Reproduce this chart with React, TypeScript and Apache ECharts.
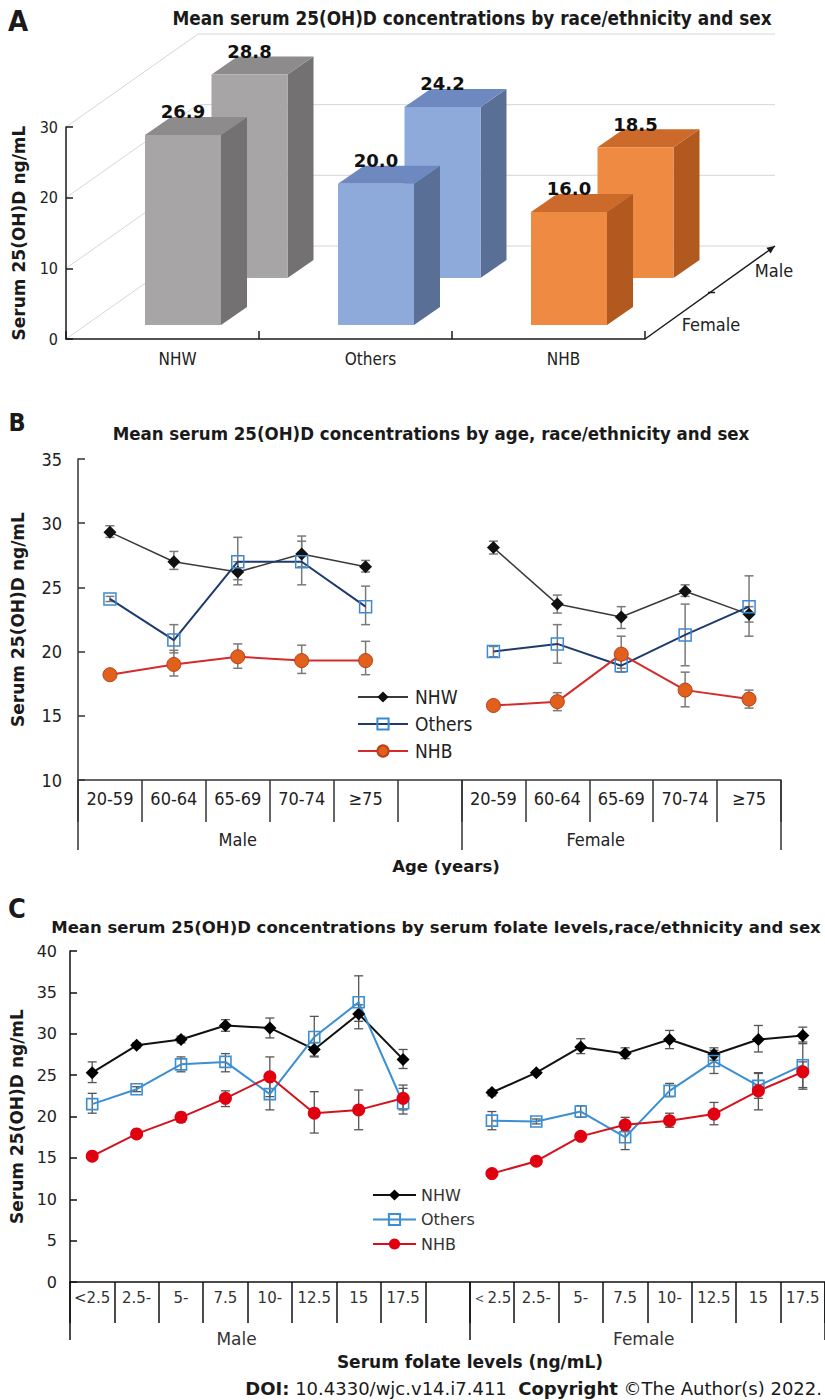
import React, { useEffect, useRef } from "react";
import * as echarts from "echarts";

// ---------- Panel A ----------
const raceGroups = ["NHW", "Others", "NHB"];
const aFemale = [26.9, 20.0, 16.0];
const aMale = [28.8, 24.2, 18.5];
const aTicks = [0, 10, 20, 30];

// ---------- Panel B ----------
const ageGroups = ["20-59", "60-64", "65-69", "70-74", "≥75"];
const bNhwMale = [29.3, 27.0, 26.2, 27.6, 26.6];
const bNhwMaleErr = [[28.9, 29.8], [26.4, 27.8], [25.2, 27.0], [26.6, 28.6], [26.2, 27.1]];
const bNhwFemale = [28.1, 23.7, 22.7, 24.7, 22.9];
const bNhwFemaleErr = [[27.6, 28.6], [23.0, 24.4], [21.8, 23.5], [24.3, 25.2], [22.3, 23.5]];
const bOthMale = [24.1, 20.9, 27.0, 27.0, 23.5];
const bOthMaleErr = [[23.9, 24.3], [19.9, 22.1], [25.6, 28.9], [25.2, 29.0], [22.1, 25.1]];
const bOthFemale = [20.0, 20.6, 18.9, 21.3, 23.5];
const bOthFemaleErr = [[19.6, 20.4], [19.1, 22.1], [18.4, 19.4], [18.9, 23.7], [21.2, 25.9]];
const bNhbMale = [18.2, 19.0, 19.6, 19.3, 19.3];
const bNhbMaleErr = [[17.9, 18.5], [18.1, 20.1], [18.7, 20.6], [18.3, 20.5], [18.2, 20.8]];
const bNhbFemale = [15.8, 16.1, 19.8, 17.0, 16.3];
const bNhbFemaleErr = [[15.6, 16.0], [15.4, 16.8], [18.7, 21.2], [15.7, 18.4], [15.6, 17.0]];

// ---------- Panel C ----------
const folateMale = ["<2.5", "2.5-", "5-", "7.5", "10-", "12.5", "15", "17.5"];
const folateFemale = ["＜2.5", "2.5-", "5-", "7.5", "10-", "12.5", "15", "17.5"];
const cNhwMale = [25.3, 28.6, 29.3, 31.0, 30.7, 28.1, 32.4, 26.9];
const cNhwMaleErr = [[24.1, 26.6], [28.3, 28.9], [28.9, 29.7], [30.3, 31.7], [29.5, 31.9], [27.3, 28.9], [30.6, 33.5], [25.8, 28.1]];
const cNhwFemale = [22.9, 25.3, 28.4, 27.6, 29.3, 27.5, 29.3, 29.8];
const cNhwFemaleErr = [[22.5, 23.2], [25.1, 25.5], [27.6, 29.4], [27.0, 28.3], [28.2, 30.4], [26.8, 28.3], [27.8, 31.0], [28.8, 30.8]];
const cOthMale = [21.5, 23.3, 26.3, 26.6, 22.7, 29.6, 33.8, 21.6];
const cOthMaleErr = [[20.4, 22.8], [23.0, 23.6], [25.4, 27.2], [25.4, 27.6], [20.8, 24.6], [27.2, 32.1], [31.5, 37.0], [20.3, 23.8]];
const cOthFemale = [19.5, 19.4, 20.6, 17.5, 23.1, 26.7, 23.7, 26.2];
const cOthFemaleErr = [[18.4, 20.6], [19.1, 19.7], [19.9, 21.3], [16.0, 18.8], [22.4, 24.0], [25.2, 28.0], [22.2, 25.3], [23.5, 29.0]];
const cNhbMale = [15.2, 17.9, 19.9, 22.2, 24.8, 20.4, 20.8, 22.2];
const cNhbMaleErr = [[15.0, 15.4], [17.6, 18.2], [19.3, 20.5], [21.2, 23.1], [22.4, 27.2], [18.0, 23.0], [18.4, 23.2], [20.8, 23.4]];
const cNhbFemale = [13.1, 14.6, 17.6, 19.0, 19.5, 20.3, 23.1, 25.4];
const cNhbFemaleErr = [null, null, null, [18.3, 19.9], [18.7, 20.4], [19.0, 21.7], [20.8, 25.2], [23.3, 26.6]];

const COND = "'DejaVu Sans Condensed', 'Liberation Sans Narrow', 'DejaVu Sans', sans-serif";
const SANS = "'DejaVu Sans', Verdana, sans-serif";

const PAL_A = [
  { front: "#a7a5a6", side: "#737172", top: "#8d8b8c" },
  { front: "#8eaadb", side: "#5a6f96", top: "#6d89bf" },
  { front: "#ef8a42", side: "#b2591f", top: "#cb6a2b" },
];

function joinSeries(male: number[], female: number[], gap: number) {
  const out: (number | null)[] = [...male];
  for (let i = 0; i < gap; i++) out.push(null);
  return out.concat(female);
}
function joinErr(male: any[], female: any[], offset: number) {
  const out: number[][] = [];
  male.forEach((e, i) => e && out.push([i, e[0], e[1]]));
  female.forEach((e, i) => e && out.push([offset + i, e[0], e[1]]));
  return out;
}

function errRender(color: string, cap: number, lw: number) {
  return (params: any, api: any) => {
    const x = api.value(0);
    const p1 = api.coord([x, api.value(1)]);
    const p2 = api.coord([x, api.value(2)]);
    const h = cap / 2;
    const st = { stroke: color, lineWidth: lw };
    return {
      type: "group",
      children: [
        { type: "line", shape: { x1: p1[0], y1: p1[1], x2: p2[0], y2: p2[1] }, style: st },
        { type: "line", shape: { x1: p1[0] - h, y1: p1[1], x2: p1[0] + h, y2: p1[1] }, style: st },
        { type: "line", shape: { x1: p2[0] - h, y1: p2[1], x2: p2[0] + h, y2: p2[1] }, style: st },
      ],
    };
  };
}

const txt = (text: string, x: number, y: number, font: string, align = "center") => ({
  type: "text",
  style: {
    text, x, y, font, fill: "#1a1a1a",
    textAlign: align, textVerticalAlign: "middle", align, verticalAlign: "middle",
  },
});

export default function App() {
  const ref = useRef<HTMLDivElement>(null);
  useEffect(() => {
    if (!ref.current) return;
    const chart = echarts.init(ref.current, null, { renderer: "svg", width: 825, height: 1400 });

    const bCats = [
      ...ageGroups.map((g) => "M|" + g),
      "|",
      ...ageGroups.map((g) => "F|" + g),
    ];
    const cCats = [
      ...folateMale.map((g) => "M|" + g),
      "|",
      ...folateFemale.map((g) => "F|" + g),
    ];
    const stripCat = (v: string) => v.split("|")[1] || "";

    // 3D bars data: [catIndex, value, row] (row 1 = Male back row, 0 = Female front row)
    const barsData: number[][] = [];
    aMale.forEach((v, i) => barsData.push([i, v, 1]));
    aFemale.forEach((v, i) => barsData.push([i, v, 0]));

    const DDX = 132, DDY = -93;

    const option: any = {
      animation: false,
      backgroundColor: "#ffffff",
      textStyle: { fontFamily: SANS },
      grid: [
        { left: 66, top: 127, width: 579, height: 212 },
        { left: 78, top: 459, width: 703, height: 321 },
        { left: 70, top: 951, width: 756, height: 331 },
      ],
      xAxis: [
        {
          gridIndex: 0, type: "category", data: raceGroups, boundaryGap: true,
          axisLine: { lineStyle: { color: "#1a1a1a", width: 1.5 } },
          axisTick: { show: true, inside: true, length: 8, interval: 0, lineStyle: { color: "#1a1a1a", width: 1.5 } },
          axisLabel: { interval: 0, margin: 11, fontSize: 17, color: "#222", fontFamily: COND, padding: [0, 0, 0, 30] },
          splitLine: { show: false },
        },
        {
          gridIndex: 1, type: "category", data: bCats, boundaryGap: true,
          axisLine: { lineStyle: { color: "#333", width: 1.5 } },
          axisTick: { show: true, interval: 0, length: 42, lineStyle: { color: "#333", width: 1.5 } },
          axisLabel: { interval: 0, margin: 9, fontSize: 18, color: "#222", fontFamily: COND, formatter: stripCat },
          splitLine: { show: false },
        },
        {
          gridIndex: 1, type: "value", min: 0, max: 11, position: "bottom",
          axisLine: { show: false }, splitLine: { show: false },
          axisTick: { show: true, customValues: [0, 6, 11], length: 70, lineStyle: { color: "#333", width: 1.5 } },
          axisLabel: {
            show: true, customValues: [2.5, 8.1], margin: 50, fontSize: 18, color: "#222", fontFamily: COND,
            formatter: (v: number) => (v < 6 ? "Male" : "Female"),
          },
        },
        {
          gridIndex: 2, type: "category", data: cCats, boundaryGap: true,
          axisLine: { lineStyle: { color: "#111", width: 1.5 } },
          axisTick: { show: true, interval: 0, length: 41, lineStyle: { color: "#111", width: 1.5 } },
          axisLabel: { interval: 0, margin: 8, fontSize: 15, color: "#333", fontFamily: SANS, formatter: stripCat },
          splitLine: { show: false },
        },
        {
          gridIndex: 2, type: "value", min: 0, max: 17, position: "bottom",
          axisLine: { show: false }, splitLine: { show: false },
          axisTick: { show: true, customValues: [0, 9, 17], length: 58, lineStyle: { color: "#111", width: 1.5 } },
          axisLabel: {
            show: true, customValues: [3.75, 12.92], margin: 48, fontSize: 17, color: "#333", fontFamily: SANS,
            formatter: (v: number) => (v < 9 ? "Male" : "Female"),
          },
        },
      ],
      yAxis: [
        {
          gridIndex: 0, type: "value", min: 0, max: 30, interval: 10,
          axisLine: { show: true, lineStyle: { color: "#1a1a1a", width: 1.5 } },
          axisTick: { show: true, inside: true, length: 7, lineStyle: { color: "#1a1a1a", width: 1.5 } },
          axisLabel: { margin: 8, fontSize: 16, color: "#222", fontFamily: COND },
          splitLine: { show: false },
          name: "Serum 25(OH)D ng/mL", nameLocation: "middle", nameRotate: 90, nameGap: 39,
          nameTextStyle: { fontSize: 17, fontWeight: "bold", color: "#1a1a1a", fontFamily: SANS },
        },
        {
          gridIndex: 1, type: "value", min: 10, max: 35, interval: 5,
          axisLine: { show: true, lineStyle: { color: "#333", width: 1.5 } },
          axisTick: { show: true, inside: true, length: 7, lineStyle: { color: "#333", width: 1.5 } },
          axisLabel: { margin: 16, fontSize: 18, color: "#222", fontFamily: COND },
          splitLine: { show: false },
          name: "Serum 25(OH)D ng/mL", nameLocation: "middle", nameRotate: 90, nameGap: 52,
          nameTextStyle: { fontSize: 17, fontWeight: "bold", color: "#1a1a1a", fontFamily: SANS },
        },
        {
          gridIndex: 2, type: "value", min: 0, max: 40, interval: 5,
          axisLine: { show: true, lineStyle: { color: "#111", width: 1.5 } },
          axisTick: { show: true, inside: true, length: 7, lineStyle: { color: "#111", width: 1.5 } },
          axisLabel: { margin: 13, fontSize: 16, color: "#222", fontFamily: SANS },
          splitLine: { show: false },
          name: "Serum 25(OH)D ng/mL", nameLocation: "middle", nameRotate: 90, nameGap: 44,
          nameTextStyle: { fontSize: 17, fontWeight: "bold", color: "#1a1a1a", fontFamily: SANS },
        },
      ],
      legend: [
        {
          data: ["NHW", "Others", "NHB"], orient: "vertical", left: 357, top: 686, padding: 0,
          itemWidth: 50, itemHeight: 14, itemGap: 5,
          textStyle: { fontSize: 19, lineHeight: 22, color: "#222", fontFamily: COND, padding: [0, 0, 0, 2] },
        },
        {
          data: ["C:NHW", "C:Others", "C:NHB"], orient: "vertical", left: 372, top: 1186, padding: 0,
          itemWidth: 43, itemHeight: 14, itemGap: 6.5,
          formatter: (n: string) => n.slice(2),
          textStyle: { fontSize: 16, lineHeight: 18, color: "#333", fontFamily: SANS },
        },
      ],
      graphic: [
        txt("A", 18, 21, "bold 29px " + COND),
        txt("Mean serum 25(OH)D concentrations by race/ethnicity and sex", 472, 18, "bold 18.8px " + COND),
        txt("B", 17, 422, "bold 25px " + COND),
        txt("Mean serum 25(OH)D concentrations by age, race/ethnicity and sex", 431, 433, "bold 18.5px " + COND),
        txt("Age (years)", 446, 866, "bold 16.5px " + SANS),
        txt("C", 17, 908, "bold 27px " + COND),
        txt("Mean serum 25(OH)D concentrations by serum folate levels,race/ethnicity and sex", 436, 927, "bold 16.5px " + SANS),
        txt("Serum folate levels (ng/mL)", 470, 1362, "bold 17px " + SANS),
        {
          type: "text",
          style: {
            text: "{b|DOI:} 10.4330/wjc.v14.i7.411  {b|Copyright} ©The Author(s) 2022.",
            x: 822, y: 1388, font: "18px " + SANS, fill: "#1a1a1a",
            textAlign: "right", textVerticalAlign: "middle", align: "right", verticalAlign: "middle",
            rich: { b: { fontWeight: "bold", fontSize: 18, fontFamily: SANS, fill: "#1a1a1a" } },
          },
        },
      ],
      series: [
        // ---- Panel A: walls ----
        {
          type: "custom", name: "walls", xAxisIndex: 0, yAxisIndex: 0, silent: true, z: 0,
          data: aTicks.map((t) => [0, t]),
          encode: { x: 0, y: 1 },
          renderItem: (params: any, api: any) => {
            const cs = params.coordSys;
            const y = api.coord([0, api.value(1)])[1];
            return {
              type: "polyline",
              shape: { points: [[cs.x, y], [cs.x + DDX, y + DDY], [cs.x + cs.width + DDX - 2, y + DDY]] },
              style: { stroke: "#d6d6d6", lineWidth: 1, fill: "none" },
            };
          },
        },
        // ---- Panel A: depth axis ----
        {
          type: "custom", name: "depth", xAxisIndex: 0, yAxisIndex: 0, silent: true, z: 5,
          data: [[0, 0]],
          encode: { x: 0, y: 1 },
          renderItem: (params: any, api: any) => {
            const cs = params.coordSys;
            const y0 = api.coord([0, 0])[1];
            const sx = cs.x + cs.width, sy = y0;
            const ex = sx + DDX - 2, ey = sy + DDY;
            const len = Math.hypot(ex - sx, ey - sy);
            const ux = (ex - sx) / len, uy = (ey - sy) / len;
            const px = -uy, py = ux;
            const bx = ex - ux * 8, by = ey - uy * 8;
            const mx = (sx + ex) / 2, my = (sy + ey) / 2;
            const st = { stroke: "#1a1a1a", lineWidth: 1.5 };
            return {
              type: "group",
              children: [
                { type: "line", shape: { x1: sx, y1: sy, x2: ex, y2: ey }, style: st },
                { type: "polygon", shape: { points: [[ex, ey], [bx + px * 3.5, by + py * 3.5], [bx - px * 3.5, by - py * 3.5]] }, style: { fill: "#1a1a1a" } },
                { type: "line", shape: { x1: mx - 2, y1: my, x2: mx + 5, y2: my }, style: st },
                { type: "text", style: { text: "Male", x: sx + 129, y: sy - 69, font: "18px " + COND, fill: "#222", textAlign: "center", textVerticalAlign: "middle", align: "center", verticalAlign: "middle" } },
                { type: "text", style: { text: "Female", x: sx + 66, y: sy - 15, font: "18px " + COND, fill: "#222", textAlign: "center", textVerticalAlign: "middle", align: "center", verticalAlign: "middle" } },
              ],
            };
          },
        },
        // ---- Panel A: 3D bars ----
        {
          type: "custom", name: "bars", xAxisIndex: 0, yAxisIndex: 0, z: 3,
          data: barsData,
          encode: { x: 0, y: 1 },
          renderItem: (params: any, api: any) => {
            const i = api.value(0), v = api.value(1), row = api.value(2);
            const base = api.coord([i, 0]);
            const top = api.coord([i, v]);
            const ox = row === 1 ? 87 : 20.5;
            const oy = row === 1 ? -61 : -14;
            const w = 76, dx = 26, dy = -18;
            const x0 = base[0] - w / 2 + ox, x1 = x0 + w;
            const yb = base[1] + oy, yt = top[1] + oy;
            const pal = PAL_A[i];
            return {
              type: "group",
              children: [
                { type: "polygon", shape: { points: [[x1, yt], [x1 + dx, yt + dy], [x1 + dx, yb + dy], [x1, yb]] }, style: { fill: pal.side } },
                { type: "polygon", shape: { points: [[x0, yt], [x0 + dx, yt + dy], [x1 + dx, yt + dy], [x1, yt]] }, style: { fill: pal.top } },
                { type: "rect", shape: { x: x0, y: yt, width: w, height: yb - yt }, style: { fill: pal.front } },
                { type: "text", style: { text: v.toFixed(1), x: (x0 + x1) / 2, y: yt - 23, font: "bold 18px " + SANS, fill: "#111", textAlign: "center", textVerticalAlign: "middle", align: "center", verticalAlign: "middle" } },
              ],
            };
          },
        },
        // ---- Panel B error bars ----
        { type: "custom", name: "bErrNhw", xAxisIndex: 1, yAxisIndex: 1, z: 2, silent: true, encode: { x: 0, y: [1, 2] }, data: joinErr(bNhwMaleErr, bNhwFemaleErr, 6), renderItem: errRender("#7a7a7a", 9, 1.5) },
        { type: "custom", name: "bErrOth", xAxisIndex: 1, yAxisIndex: 1, z: 2, silent: true, encode: { x: 0, y: [1, 2] }, data: joinErr(bOthMaleErr, bOthFemaleErr, 6), renderItem: errRender("#7a7a7a", 9, 1.5) },
        { type: "custom", name: "bErrNhb", xAxisIndex: 1, yAxisIndex: 1, z: 2, silent: true, encode: { x: 0, y: [1, 2] }, data: joinErr(bNhbMaleErr, bNhbFemaleErr, 6), renderItem: errRender("#7a7a7a", 9, 1.5) },
        // ---- Panel B lines ----
        {
          type: "line", name: "NHW", xAxisIndex: 1, yAxisIndex: 1, z: 3,
          data: joinSeries(bNhwMale, bNhwFemale, 1),
          symbol: "diamond", symbolSize: 13,
          lineStyle: { color: "#3a3a3a", width: 1.5 },
          itemStyle: { color: "#111111" },
        },
        {
          type: "line", name: "Others", xAxisIndex: 1, yAxisIndex: 1, z: 3,
          data: joinSeries(bOthMale, bOthFemale, 1),
          symbol: "rect", symbolSize: 12,
          lineStyle: { color: "#1f3a6e", width: 2 },
          itemStyle: { color: "rgba(255,255,255,0)", borderColor: "#3b8ad2", borderWidth: 1.5 },
        },
        {
          type: "line", name: "NHB", xAxisIndex: 1, yAxisIndex: 1, z: 3,
          data: joinSeries(bNhbMale, bNhbFemale, 1),
          symbol: "circle", symbolSize: 14,
          lineStyle: { color: "#d42c2c", width: 2 },
          itemStyle: { color: "#e0601c", borderColor: "#b8401a", borderWidth: 1 },
        },
        // ---- Panel C error bars ----
        { type: "custom", name: "cErrNhw", xAxisIndex: 3, yAxisIndex: 2, z: 2, silent: true, encode: { x: 0, y: [1, 2] }, data: joinErr(cNhwMaleErr, cNhwFemaleErr, 9), renderItem: errRender("#555555", 9, 1.3) },
        { type: "custom", name: "cErrOth", xAxisIndex: 3, yAxisIndex: 2, z: 2, silent: true, encode: { x: 0, y: [1, 2] }, data: joinErr(cOthMaleErr, cOthFemaleErr, 9), renderItem: errRender("#555555", 9, 1.3) },
        { type: "custom", name: "cErrNhb", xAxisIndex: 3, yAxisIndex: 2, z: 2, silent: true, encode: { x: 0, y: [1, 2] }, data: joinErr(cNhbMaleErr, cNhbFemaleErr, 9), renderItem: errRender("#555555", 9, 1.3) },
        // ---- Panel C lines ----
        {
          type: "line", name: "C:NHW", xAxisIndex: 3, yAxisIndex: 2, z: 3,
          data: joinSeries(cNhwMale, cNhwFemale, 1),
          symbol: "diamond", symbolSize: 13,
          lineStyle: { color: "#111111", width: 2 },
          itemStyle: { color: "#000000" },
        },
        {
          type: "line", name: "C:Others", xAxisIndex: 3, yAxisIndex: 2, z: 3,
          data: joinSeries(cOthMale, cOthFemale, 1),
          symbol: "rect", symbolSize: 11,
          lineStyle: { color: "#3b8fd3", width: 2 },
          itemStyle: { color: "rgba(255,255,255,0)", borderColor: "#3b8fd3", borderWidth: 1.6 },
        },
        {
          type: "line", name: "C:NHB", xAxisIndex: 3, yAxisIndex: 2, z: 3,
          data: joinSeries(cNhbMale, cNhbFemale, 1),
          symbol: "circle", symbolSize: 13,
          lineStyle: { color: "#d4111c", width: 2 },
          itemStyle: { color: "#e0000f" },
        },
      ],
    };

    chart.setOption(option);
    return () => chart.dispose();
  }, []);

  return (
    <div
      ref={ref}
      style={{ position: "absolute", left: 0, top: 0, width: 825, height: 1400, background: "#fff" }}
    />
  );
}
